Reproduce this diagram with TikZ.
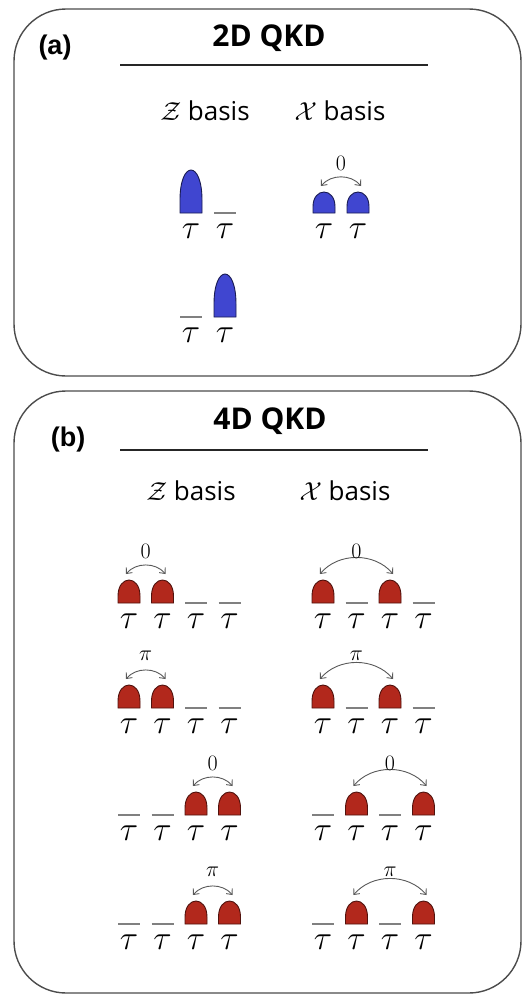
\RequirePackage{fix-cm}
\documentclass[tikz,border=0pt]{standalone}
\usepackage{fontspec}
\setmainfont{Open Sans}
\newfontfamily\labfont{Liberation Sans}
\usetikzlibrary{calc,arrows.meta}
\definecolor{pblue}{RGB}{64,70,208}
\definecolor{pred}{RGB}{178,40,28}
\tikzset{
  panel/.style={draw=black!70, line width=1.4pt, rounded corners=52pt},
  ruleline/.style={draw=black!85, line width=1.2pt},
  slotline/.style={draw=black!50, line width=1.6pt},
  bluepulse/.style={fill=pblue, draw=black!60!pblue, line width=0.9pt},
  redpulse/.style={fill=pred, draw=black!55!pred, line width=0.9pt},
  phasearr/.style={draw=black!65, line width=0.9pt, {Straight Barb[length=4.5pt,width=8pt]}-{Straight Barb[length=4.5pt,width=8pt]}},
  taulab/.style={anchor=base, inner sep=0pt, font=\fontsize{34}{34}\selectfont},
  phaselab/.style={inner sep=0pt, font=\fontsize{22}{22}\selectfont},
  titlelab/.style={anchor=base, inner sep=0pt, font=\bfseries\fontsize{30}{30}\selectfont},
  panellab/.style={anchor=base, inner sep=0pt, font=\labfont\bfseries\fontsize{27}{27}\selectfont},
  basislab/.style={anchor=base, inner sep=0pt, font=\fontsize{26}{26}\selectfont},
}
% pulse: name, left x, baseline y, height, style
\newcommand\qpulse[5]{%
  \path[#5] (#2,#3) -- (#2,{#3-0.3*#4}) .. controls (#2,{#3-1.233*#4}) and ({#2+22},{#3-1.233*#4}) .. ({#2+22},{#3-0.3*#4}) -- ({#2+22},#3) -- cycle;
  \coordinate (#1) at ({#2+11},{#3-#4});
}
% empty slot: name, left x, baseline y
\newcommand\qslot[3]{%
  \coordinate (#1a) at (#2,#3);
  \coordinate (#1b) at ({#2+22},#3);
  \draw[slotline] (#1a) -- (#1b);
}
% tau label: name, left x, baseline y
\newcommand\qtau[3]{\node[taulab] (#1) at ({#2+11},{#3+25}) {$\tau$};}
% phase arrow between two pulses with label
\newcommand\qphase[3]{%
  \draw[phasearr] ([xshift=-3pt,yshift=6pt]#1) to[out=50,in=130] ([xshift=3pt,yshift=6pt]#2);
  \node[phaselab] (#1#2lab) at ($(#1)!0.5!(#2)+(0,-29)$) {#3};
}
\begin{document}
\begin{tikzpicture}[x=1pt,y=-1pt]
\useasboundingbox (0,0) rectangle (523,996);
% ---------- panel (a)
\path[panel] (14,9) rectangle (521,376);
\node[panellab] (pa) at (55,54) {(a)};
\node[titlelab] (ta) at (269,46) {2D QKD};
\coordinate (ra1) at (120,65); \coordinate (ra2) at (428,65);
\draw[ruleline] (ra1) -- (ra2);
\node[basislab] (za) at (205,120) {$\mathcal{Z}$ basis};
\node[basislab] (xa) at (340,120) {$\mathcal{X}$ basis};
% Z basis
\qpulse{az1}{180}{213}{43}{bluepulse}
\qslot{az2}{214}{213}
\qtau{atz1}{180}{213} \qtau{atz2}{214}{213}
\qslot{az3}{180}{317}
\qpulse{az4}{214}{317}{43}{bluepulse}
\qtau{atz3}{180}{317} \qtau{atz4}{214}{317}
% X basis
\qpulse{ax1}{313}{213}{21}{bluepulse}
\qpulse{ax2}{347}{213}{21}{bluepulse}
\qtau{atx1}{313}{213} \qtau{atx2}{347}{213}
\qphase{ax1}{ax2}{$0$}
% ---------- panel (b)
\path[panel] (14,391) rectangle (521,993);
\node[panellab] (pb) at (68,446) {(b)};
\node[titlelab] (tb) at (270,429) {4D QKD};
\coordinate (rb1) at (120,450); \coordinate (rb2) at (428,450);
\draw[ruleline] (rb1) -- (rb2);
\node[basislab] (zb) at (191,500) {$\mathcal{Z}$ basis};
\node[basislab] (xb) at (345,500) {$\mathcal{X}$ basis};
% row 1
\qpulse{z11}{118}{603}{23}{redpulse}
\qpulse{z12}{151.5}{603}{23}{redpulse}
\qslot{z13}{185}{603}
\qslot{z14}{218.5}{603}
\qpulse{x11}{312}{603}{23}{redpulse}
\qslot{x12}{345.5}{603}
\qpulse{x13}{379}{603}{23}{redpulse}
\qslot{x14}{412.5}{603}
\qphase{z11}{z12}{$0$}
\qphase{x11}{x13}{$0$}
% row 2
\qpulse{z21}{118}{708}{23}{redpulse}
\qpulse{z22}{151.5}{708}{23}{redpulse}
\qslot{z23}{185}{708}
\qslot{z24}{218.5}{708}
\qpulse{x21}{312}{708}{23}{redpulse}
\qslot{x22}{345.5}{708}
\qpulse{x23}{379}{708}{23}{redpulse}
\qslot{x24}{412.5}{708}
\qphase{z21}{z22}{$\pi$}
\qphase{x21}{x23}{$\pi$}
% row 3
\qslot{z31}{118}{815}
\qslot{z32}{151.5}{815}
\qpulse{z33}{185}{815}{23}{redpulse}
\qpulse{z34}{218.5}{815}{23}{redpulse}
\qslot{x31}{312}{815}
\qpulse{x32}{345.5}{815}{23}{redpulse}
\qslot{x33}{379}{815}
\qpulse{x34}{412.5}{815}{23}{redpulse}
\qphase{z33}{z34}{$0$}
\qphase{x32}{x34}{$0$}
% row 4
\qslot{z41}{118}{924}
\qslot{z42}{151.5}{924}
\qpulse{z43}{185}{924}{23}{redpulse}
\qpulse{z44}{218.5}{924}{23}{redpulse}
\qslot{x41}{312}{924}
\qpulse{x42}{345.5}{924}{23}{redpulse}
\qslot{x43}{379}{924}
\qpulse{x44}{412.5}{924}{23}{redpulse}
\qphase{z43}{z44}{$\pi$}
\qphase{x42}{x44}{$\pi$}
% tau labels
\foreach \yy/\rr in {603/1,708/2,815/3,924/4}{
  \foreach \xx/\cc in {118/1,151.5/2,185/3,218.5/4}{\qtau{tz\rr\cc}{\xx}{\yy}}
  \foreach \xx/\cc in {312/1,345.5/2,379/3,412.5/4}{\qtau{tx\rr\cc}{\xx}{\yy}}
}
\end{tikzpicture}
\end{document}
